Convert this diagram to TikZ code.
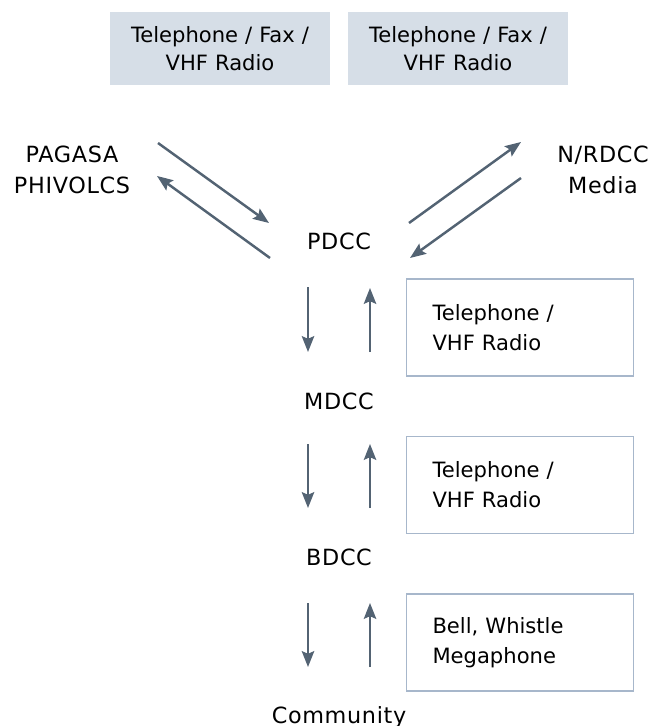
\documentclass[tikz,border=0pt]{standalone}
\usepackage{fontspec}
\setmainfont{DejaVu Sans}
\usetikzlibrary{calc,arrows.meta}

\definecolor{arrowgrey}{HTML}{536373}
\definecolor{mediafill}{HTML}{D6DEE7}
\definecolor{medialine}{HTML}{A7B7CB}

\tikzstyle{label} = [text centered, align=center, inner sep=0pt, font=\addfontfeatures{LetterSpace=3}\fontsize{12.7}{17.5}\selectfont]
\tikzstyle{media} = [rectangle, fill=mediafill, text centered, align=center, text width=4.4cm, minimum height=1.48cm, inner sep=0pt, font=\fontsize{12}{16}\selectfont]
\tikzstyle{means} = [draw=medialine, line width=0.8pt, rectangle, align=left, text width=3.5cm, minimum width=4.52cm, minimum height=1.94cm, inner xsep=0.52cm, font=\fontsize{12}{17}\selectfont]
\tikzstyle{arrow} = [draw=arrowgrey, line width=1.4pt, -{Stealth[length=9pt,width=7pt,inset=1.5pt]}]

\begin{document}
\begin{tikzpicture}[x=0.02cm, y=-0.02cm]
  \useasboundingbox (0,0) rectangle (651,726);
  % channels to the province
  \node[media] (fax1) at (220,48.5) {Telephone / Fax /\\VHF Radio};
  \node[media] (fax2) at (458,48.5) {Telephone / Fax /\\VHF Radio};

  \node[label] (src) at (72,170) {PAGASA\\PHIVOLCS};
  \node[label] (nat) at (603,170) {N/RDCC\\Media};
  \node[label] (pdcc) at (339,241) {PDCC};
  \node[label] (mdcc) at (339,401) {MDCC};
  \node[label] (bdcc) at (339,557) {BDCC};
  \node[label] (comm) at (339,717) {Community};

  \node[means] (tel1) at (520,327.5) {Telephone /\\VHF Radio};
  \node[means] (tel2) at (520,485) {Telephone /\\VHF Radio};
  \node[means] (bell) at (520,642.5) {Bell, Whistle\\Megaphone};

  \draw [arrow] ($(src)+(86,-27)$) to ($(pdcc)+(-70,-18)$);
  \draw [arrow] ($(pdcc)+(-69,17)$) to ($(src)+(85,6)$);
  \draw [arrow] ($(pdcc)+(70,-18)$) to ($(nat)+(-82,-28)$);
  \draw [arrow] ($(nat)+(-82,8)$) to ($(pdcc)+(71,17)$);

  \draw [arrow] ($(pdcc)+(-31,46)$) to ($(mdcc)+(-31,-49)$);
  \draw [arrow] ($(mdcc)+(31,-49)$) to ($(pdcc)+(31,47)$);
  \draw [arrow] ($(mdcc)+(-31,43)$) to ($(bdcc)+(-31,-49)$);
  \draw [arrow] ($(bdcc)+(31,-49)$) to ($(mdcc)+(31,43)$);
  \draw [arrow] ($(bdcc)+(-31,46)$) to ($(comm)+(-31,-50)$);
  \draw [arrow] ($(comm)+(31,-50)$) to ($(bdcc)+(31,46)$);
\end{tikzpicture}
\end{document}
